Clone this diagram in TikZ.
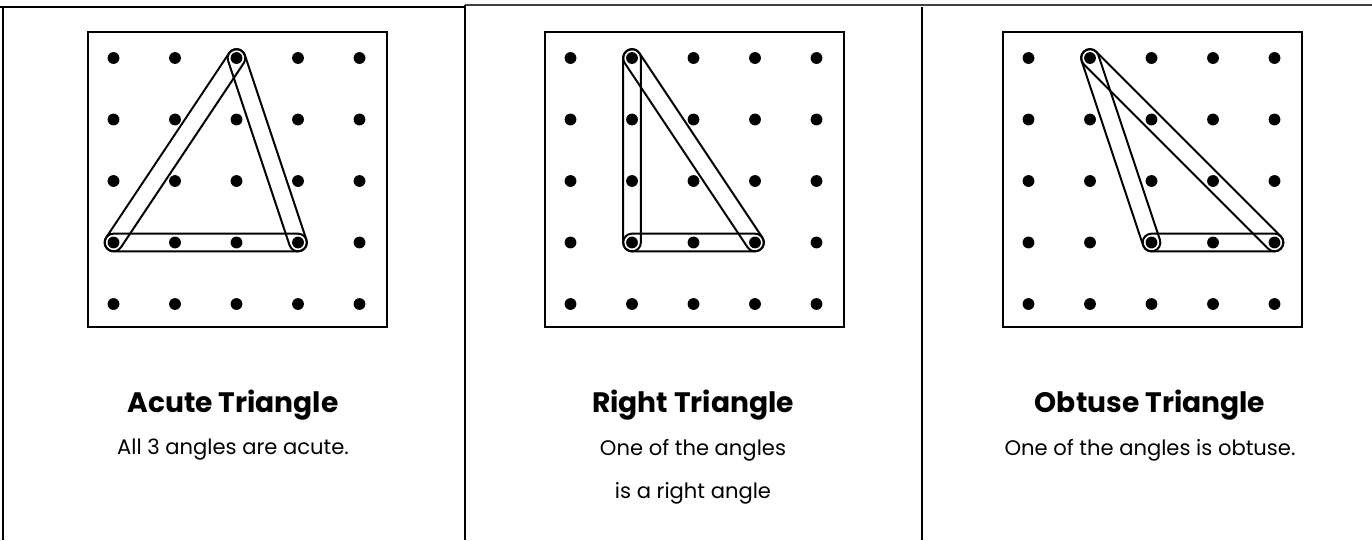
\documentclass[tikz,border=0pt]{standalone}
\usepackage{fontspec}
\setmainfont{Poppins}
\usetikzlibrary{calc}

\tikzset{
  peg/.style={circle,fill=black,inner sep=0pt,minimum size=8.4pt},
  board/.style={draw=black,line width=0.9pt},
  bandline/.style={draw=black,line width=1.4pt,line join=round},
  frame/.style={line width=1.5pt},
  title/.style={font=\bfseries\fontsize{20}{24}\selectfont},
  caption/.style={font=\fontsize{15}{18}\selectfont},
}
\newcommand{\bandr}{6.3pt}
% rubber band stretched round two pegs
\newcommand{\band}[2]{%
  \draw[bandline] let \p1=(#1), \p2=(#2), \n1={atan2(\y2-\y1,\x2-\x1)} in
    ($(#1)+(\n1+90:\bandr)$) -- ($(#2)+(\n1+90:\bandr)$)
    arc[start angle=\n1+90, delta angle=-180, radius=\bandr]
    -- ($(#1)+(\n1-90:\bandr)$)
    arc[start angle=\n1-90, delta angle=-180, radius=\bandr] -- cycle;}

\begin{document}
\begin{tikzpicture}[x=0.025cm,y=-0.025cm]
  \useasboundingbox (0,0) rectangle (1372,540);
  % panel frames
  \draw[frame] (0,7) -- (465,7);
  \draw[frame,black!75] (465,5) -- (1372,5);
  \draw[frame] (3,7) -- (3,540);
  \draw[frame] (465,5) -- (465,540);
  \draw[frame] (922,7) -- (922,540);

  % geoboards
  \foreach \k/\bx in {1/88,2/545,3/1003}{
    \draw[board] (\bx,32) rectangle ++(299,295);
    \foreach \i in {0,...,4}
      \foreach \j in {0,...,4}
        \node[peg] (p\k-\i-\j) at ({\bx+25.5+61.5*\i},{58+61.5*\j}) {};
  }

  % acute
  \band{p1-0-3}{p1-2-0}
  \band{p1-2-0}{p1-3-3}
  \band{p1-3-3}{p1-0-3}
  % right
  \band{p2-1-3}{p2-1-0}
  \band{p2-1-0}{p2-3-3}
  \band{p2-3-3}{p2-1-3}
  % obtuse
  \band{p3-2-3}{p3-1-0}
  \band{p3-1-0}{p3-4-3}
  \band{p3-4-3}{p3-2-3}

  \node[title] (t1) at (233,405) {Acute Triangle};
  \node[caption] (c1) at (233,450) {All 3 angles are acute.};
  \node[title] (t2) at (693,405) {Right Triangle};
  \node[caption] (c2) at (693,450) {One of the angles};
  \node[caption] (c2b) at (693,493) {is a right angle};
  \node[title] (t3) at (1150,405) {Obtuse Triangle};
  \node[caption] (c3) at (1150,450) {One of the angles is obtuse.};
\end{tikzpicture}
\end{document}
